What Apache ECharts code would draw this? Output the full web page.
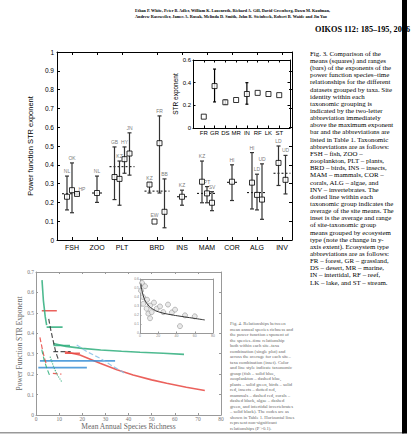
<!DOCTYPE html>
<html>
<head>
<meta charset="utf-8">
<script src="https://cdn.jsdelivr.net/npm/echarts@6/dist/echarts.min.js"></script>
<style>
  body { margin: 0; background: #fff; }
  #page { position: relative; width: 414px; height: 438px; overflow: hidden; }
  #chart { position: absolute; left: 0; top: 0; width: 414px; height: 438px; }
  #text { position: absolute; left: 0; top: 0; pointer-events: none; }
  #text text { font-family: 'Liberation Serif', 'DejaVu Serif', serif; }
</style>
</head>
<body>
<div id="page">
  <div id="chart"></div>
  <svg id="text" width="414" height="438"></svg>
</div>
<script>
// ---- Fig. 3 main panel: taxonomic groups ----
const groupNames = ['FSH', 'ZOO', 'PLT', 'BRD', 'INS', 'MAM', 'COR', 'ALG', 'INV'];
const groupPos = [3, 8, 13, 20, 25, 30, 35, 40, 45];
const groupAvg = [0.246, 0.25, 0.39, 0.26, 0.23, 0.248, 0.307, 0.252, 0.355];

// sites (mean square + min/max bar), grouped by taxon
const siteNames = ['NL', 'OK', 'HP', 'NL', 'GB', 'KZ', 'HY', 'JN', 'KZ', 'EW', 'FR', 'BB', 'KZ', 'KZ', 'PT', 'SV', 'HI', 'HI', 'LD', 'UD', 'LD', 'UD'];
const siteGroup = [0, 0, 0, 1, 2, 2, 2, 2, 3, 3, 3, 3, 4, 5, 5, 5, 6, 7, 7, 7, 8, 8];
const siteX = [2, 3, 4, 8, 11.5, 12.5, 13.5, 14.5, 18.5, 19.5, 20.5, 21.5, 25, 29, 30, 31, 35, 39, 40, 41, 44.3, 45.7];
const siteMean = [0.23, 0.265, 0.245, 0.25, 0.335, 0.325, 0.43, 0.46, 0.295, 0.098, 0.515, 0.15, 0.23, 0.31, 0.248, 0.198, 0.31, 0.305, 0.24, 0.215, 0.41, 0.32];
const siteMin = [0.16, 0.145, 0.24, 0.2, 0.215, 0.185, 0.355, 0.345, 0.25, 0.098, 0.25, 0.065, 0.185, 0.198, 0.198, 0.156, 0.21, 0.165, 0.16, 0.11, 0.29, 0.245];
const siteMax = [0.34, 0.41, 0.255, 0.34, 0.495, 0.42, 0.495, 0.57, 0.305, 0.098, 0.66, 0.325, 0.265, 0.42, 0.284, 0.257, 0.40, 0.465, 0.35, 0.405, 0.50, 0.45];

// inset: ecosystem types
const ecoNames = ['FR', 'GR', 'DS', 'MR', 'IN', 'RF', 'LK', 'ST'];
const ecoPos = [1, 2, 3, 4, 5, 6, 7, 8];
const ecoMean = [0.10, 0.37, 0.227, 0.247, 0.30, 0.31, 0.30, 0.29];
const ecoMin = [0.10, 0.23, 0.21, 0.247, 0.21, 0.31, 0.30, 0.29];
const ecoMax = [0.10, 0.52, 0.245, 0.247, 0.40, 0.31, 0.30, 0.29];

// ---- Fig. 4 (lower, scanned): exponent vs mean annual richness ----
const redFlatTop = [[2.5, 0.51], [9, 0.51]];
const greenSteep = [[2.6, 0.66], [3.2, 0.56], [4, 0.48], [4.6, 0.44]];
const greenFlat1 = [[4.6, 0.43], [11.5, 0.43]];
const greenCurve = [[7.5, 0.35], [13, 0.336], [20, 0.326], [28, 0.318], [37, 0.312], [45, 0.307], [55, 0.302], [64, 0.297]];
const greenFlat2 = [[7.5, 0.34], [14.7, 0.34]];
const blackDash = [[5.5, 0.47], [6.5, 0.41], [7.5, 0.36], [8.5, 0.31], [9.7, 0.27]];
const blackFlat = [[7.5, 0.31], [15, 0.31]];
const redCurve = [[12.5, 0.31], [19, 0.294], [27.7, 0.253], [35, 0.222], [42, 0.196], [50, 0.172], [56.5, 0.155], [65, 0.136], [73, 0.12]];
const redFlat = [[12.5, 0.302], [19, 0.302]];
const blueFlat1 = [[1.7, 0.265], [34.2, 0.265]];
const blueFlat2 = [[1, 0.232], [22, 0.232]];
const blueDash = [[17.6, 0.343], [22, 0.31], [27.7, 0.278], [33, 0.24], [38.5, 0.204]];
const redDashShort = [[7.3, 0.204], [11, 0.2]];
const redDashSteep = [[1.7, 0.38], [2.6, 0.33], [3.6, 0.28], [4.6, 0.245]];
const greenDash = [[2.5, 0.32], [3.5, 0.27], [4.8, 0.225], [6.1, 0.188]];
const greenDot = [[6.1, 0.286], [7.5, 0.24], [9, 0.2], [11.1, 0.163]];

// Fig. 4 inset: site-taxa averages
const insetRich = [1.1, 2.2, 3.3, 3.6, 5.5, 7.3, 7.7, 9.1, 11, 11, 12.8, 15.3, 18.3, 21.9, 25.5, 30.7, 35, 38.4, 43.8, 49.3, 60];
const insetExp = [0.47, 0.556, 0.40, 0.324, 0.52, 0.27, 0.37, 0.215, 0.164, 0.305, 0.232, 0.338, 0.27, 0.295, 0.232, 0.316, 0.229, 0.259, 0.076, 0.196, 0.185];
const insetFitX = [1, 4, 9, 15, 22, 33, 45, 58, 71];
const insetFitY = [0.55, 0.40, 0.31, 0.26, 0.23, 0.205, 0.185, 0.165, 0.145];

// ---- page text ----
const headerLines = [
  'Ethan P. White, Peter B. Adler, William K. Lauenroth, Richard A. Gill, David Greenberg, Dawn M. Kaufman,',
  'Andrew Rassweiler, James A. Rusak, Melinda D. Smith, John R. Steinbeck, Robert B. Waide and Jin Yao'
];
const journalLine = 'OIKOS 112: 185–195, 2006';
const fig3Caption = [
  'Fig. 3. Comparison of the', 'means (squares) and ranges', '(bars) of the exponents of the',
  'power function species–time', 'relationships for the different', 'datasets grouped by taxa. Site',
  'identity within each', 'taxonomic grouping is', 'indicated by the two-letter',
  'abbreviation immediately', 'above the maximum exponent', 'bar and the abbreviations are',
  'listed in Table 1. Taxonomic', 'abbreviations are as follows:', 'FSH – fish, ZOO –',
  'zooplankton, PLT – plants,', 'BRD – birds, INS – insects,', 'MAM – mammals, COR –',
  'corals, ALG – algae, and', 'INV – invertebrates. The', 'dotted line within each',
  'taxonomic group indicates the', 'average of the site means. The', 'inset is the average and range',
  'of site-taxonomic group', 'means grouped by ecosystem', 'type (note the change in y-',
  'axis extent). Ecosystem type', 'abbreviations are as follows:', 'FR – forest, GR – grassland,',
  'DS – desert, MR – marine,', 'IN – intertidal, RF – reef,', 'LK – lake, and ST – stream.'
];
const fig4Caption = [
  'Fig. 4. Relationships between', 'mean annual species richness and', 'the power function exponent of',
  'the species–time relationship', 'both within each site–taxa', 'combination (single plot) and',
  'across the average for each site–', 'taxa combination (inset). Color', 'and line style indicate taxonomic',
  'group (fish – solid blue,', 'zooplankton – dashed blue,', 'plants – solid green, birds – solid',
  'red, insects – dotted red,', 'mammals – dashed red, corals –', 'dashed black, algae – dashed',
  'green, and intertidal invertebrates', '– solid black). The codes are as', 'shown in Table 1. Horizontal lines',
  'represent non-significant', 'relationships (P >0.1).'
];

const sans = "'Liberation Sans', Arial, sans-serif";
const serif = "'Liberation Serif', 'DejaVu Serif', serif";

// error bar with caps
function errorBars(capW, color) {
  return function (params, api) {
    const x = api.value(0);
    const lo = api.coord([x, api.value(1)]);
    const hi = api.coord([x, api.value(2)]);
    const h = capW / 2;
    const st = { stroke: color, lineWidth: 1.2 };
    const kids = [];
    if (lo[1] - hi[1] > 0.5) {
      kids.push({ type: 'line', shape: { x1: lo[0], y1: lo[1], x2: hi[0], y2: hi[1] }, style: st });
      kids.push({ type: 'line', shape: { x1: lo[0] - h, y1: lo[1], x2: lo[0] + h, y2: lo[1] }, style: st });
      kids.push({ type: 'line', shape: { x1: hi[0] - h, y1: hi[1], x2: hi[0] + h, y2: hi[1] }, style: st });
    }
    return { type: 'group', children: kids };
  };
}

function dashedAvg(params, api) {
  const a = api.coord([api.value(0), api.value(2)]);
  const b = api.coord([api.value(1), api.value(2)]);
  return { type: 'line', shape: { x1: a[0], y1: a[1], x2: b[0], y2: b[1] },
           style: { stroke: '#000', lineWidth: 1, lineDash: [2, 2] } };
}

// group extent for the dotted average line: one site step beyond first and last site
const avgData = groupNames.map((g, gi) => {
  const xs = siteX.filter((x, i) => siteGroup[i] === gi);
  return [Math.min(...xs) - 1, Math.max(...xs) + 1, groupAvg[gi]];
});

// site labels sit just above the top of each bar (HP is written beside it)
const labelData = siteX.map((x, i) => ({
  value: [x, siteMax[i]],
  name: siteNames[i],
  label: siteNames[i] === 'HP' ? { position: 'right', distance: 1, offset: [0, -3] }
       : siteMin[i] === siteMax[i] ? { distance: 4 } : {}
}));

function frameAxis(grid, pos, type, extra) {
  const ax = Object.assign({
    gridIndex: grid, type: 'value', position: pos,
    axisLine: { show: true, onZero: false, lineStyle: { color: '#000', width: 1 } },
    axisTick: { show: true, inside: true, length: 3, lineStyle: { color: '#000' } },
    axisLabel: { show: false },
    splitLine: { show: false }
  }, extra);
  return ax;
}

const lowCol = { red: '#e8453f', green: '#2fae7d', blue: '#3a8fd6', lblue: '#86bfe6', black: '#333' };
function lowLine(data, color, type, width) {
  return { type: 'line', xAxisIndex: 4, yAxisIndex: 4, data: data, symbol: 'none', silent: true,
           lineStyle: { color: color, width: width || 1.6, type: type || 'solid', opacity: 0.85 } };
}

const chart = echarts.init(document.getElementById('chart'), null, { renderer: 'svg' });

const grayAxis = { color: '#999', width: 1 };
const option = {
  animation: false,
  grid: [
    { left: 57, top: 52, width: 235, height: 188 },
    { left: 193, top: 60, width: 97, height: 68 },
    { left: 36, top: 272, width: 185, height: 143 },
    { left: 140, top: 279, width: 73, height: 54 }
  ],
  xAxis: [
    frameAxis(0, 'bottom', 'value', {
      min: 0, max: 47,
      axisTick: { show: true, inside: true, length: 3, customValues: groupPos, lineStyle: { color: '#000' } },
      axisLabel: { show: true, customValues: groupPos, formatter: v => groupNames[groupPos.indexOf(v)],
                   fontSize: 7, fontFamily: sans, color: '#000', margin: 4 }
    }),
    frameAxis(0, 'top', 'value', {
      min: 0, max: 47,
      axisTick: { show: true, inside: true, length: 3, customValues: groupPos, lineStyle: { color: '#000' } }
    }),
    frameAxis(1, 'bottom', 'value', {
      min: 0, max: 9,
      axisTick: { show: true, inside: true, length: 2.5, customValues: ecoPos, lineStyle: { color: '#000' } },
      axisLabel: { show: true, customValues: ecoPos, formatter: v => ecoNames[ecoPos.indexOf(v)],
                   fontSize: 6, fontFamily: sans, color: '#000', margin: 2 }
    }),
    frameAxis(1, 'top', 'value', {
      min: 0, max: 9,
      axisTick: { show: true, inside: true, length: 2.5, customValues: ecoPos, lineStyle: { color: '#000' } }
    }),
    frameAxis(2, 'bottom', 'value', {
      min: 0, max: 80, interval: 10,
      axisLine: { show: true, onZero: false, lineStyle: grayAxis },
      axisTick: { show: true, inside: true, length: 2, lineStyle: grayAxis },
      axisLabel: { show: true, fontSize: 5.5, fontFamily: serif, color: '#777', margin: 1 },
      name: 'Mean Annual Species Richness', nameLocation: 'middle', nameGap: 7,
      nameTextStyle: { fontSize: 7.5, fontFamily: serif, color: '#666' }
    }),
    frameAxis(2, 'top', 'value', {
      min: 0, max: 80, interval: 10,
      axisLine: { show: true, onZero: false, lineStyle: grayAxis },
      axisTick: { show: true, inside: true, length: 2, lineStyle: grayAxis }
    }),
    frameAxis(3, 'bottom', 'value', {
      min: 0, max: 80, interval: 20,
      axisLine: { show: true, onZero: false, lineStyle: grayAxis },
      axisTick: { show: true, inside: true, length: 1.5, lineStyle: grayAxis },
      axisLabel: { show: true, fontSize: 3.5, color: '#888', margin: 1 }
    }),
    frameAxis(3, 'top', 'value', {
      min: 0, max: 80, interval: 20,
      axisLine: { show: true, onZero: false, lineStyle: grayAxis },
      axisTick: { show: false }
    })
  ],
  yAxis: [
    frameAxis(0, 'left', 'value', {
      min: 0, max: 1, interval: 0.1,
      axisLabel: { show: true, fontSize: 6.5, fontFamily: sans, color: '#000', margin: 3 },
      name: 'Power function STR exponent', nameLocation: 'middle', nameGap: 15,
      nameTextStyle: { fontSize: 7.5, fontFamily: sans, color: '#000' }
    }),
    frameAxis(0, 'right', 'value', { min: 0, max: 1, interval: 0.1 }),
    frameAxis(1, 'left', 'value', {
      min: 0, max: 0.6, interval: 0.2,
      axisTick: { show: true, inside: true, length: 2.5, lineStyle: { color: '#000' } },
      axisLabel: { show: true, fontSize: 6, fontFamily: sans, color: '#000', margin: 2 },
      name: 'STR exponent', nameLocation: 'middle', nameGap: 12,
      nameTextStyle: { fontSize: 6.5, fontFamily: sans, color: '#000' }
    }),
    frameAxis(1, 'right', 'value', {
      min: 0, max: 0.6, interval: 0.2,
      axisTick: { show: true, inside: true, length: 2.5, lineStyle: { color: '#000' } }
    }),
    frameAxis(2, 'left', 'value', {
      min: 0, max: 0.7, interval: 0.1,
      axisLine: { show: true, onZero: false, lineStyle: grayAxis },
      axisTick: { show: true, inside: true, length: 2, lineStyle: grayAxis },
      axisLabel: { show: true, fontSize: 5.5, fontFamily: serif, color: '#777', margin: 2 },
      name: 'Power Function STR Exponent', nameLocation: 'middle', nameGap: 13,
      nameTextStyle: { fontSize: 7.5, fontFamily: serif, color: '#666' }
    }),
    frameAxis(2, 'right', 'value', {
      min: 0, max: 0.7, interval: 0.1,
      axisLine: { show: true, onZero: false, lineStyle: grayAxis },
      axisTick: { show: true, inside: true, length: 2, lineStyle: grayAxis }
    }),
    frameAxis(3, 'left', 'value', {
      min: 0, max: 0.6, interval: 0.1,
      axisLine: { show: true, onZero: false, lineStyle: grayAxis },
      axisTick: { show: true, inside: true, length: 1.5, lineStyle: grayAxis },
      axisLabel: { show: true, fontSize: 3.5, color: '#888', margin: 1 }
    }),
    frameAxis(3, 'right', 'value', {
      min: 0, max: 0.6, interval: 0.1,
      axisLine: { show: true, onZero: false, lineStyle: grayAxis },
      axisTick: { show: false }
    })
  ],
  series: [
    // main panel
    { type: 'custom', xAxisIndex: 0, yAxisIndex: 0, renderItem: dashedAvg, silent: true,
      itemStyle: { color: '#000' },
      encode: { x: [0, 1], y: 2 }, data: avgData, z: 2 },
    { type: 'custom', xAxisIndex: 0, yAxisIndex: 0, renderItem: errorBars(4, '#333'), silent: true,
      itemStyle: { color: '#333' },
      encode: { x: 0, y: [1, 2] },
      data: siteX.map((x, i) => [x, siteMin[i], siteMax[i]]), z: 3 },
    { type: 'scatter', xAxisIndex: 0, yAxisIndex: 0, symbol: 'rect', symbolSize: 5, silent: true,
      itemStyle: { color: '#fff', borderColor: '#000', borderWidth: 1 },
      data: siteX.map((x, i) => [x, siteMean[i]]), z: 4 },
    { type: 'scatter', xAxisIndex: 0, yAxisIndex: 0, symbol: 'circle', symbolSize: 1, silent: true,
      itemStyle: { color: 'rgba(0,0,0,0)' },
      label: { show: true, position: 'top', distance: 2, formatter: '{b}',
               fontSize: 5, fontFamily: sans, color: '#555' },
      data: labelData, z: 5 },
    // inset
    { type: 'custom', xAxisIndex: 2, yAxisIndex: 2, renderItem: errorBars(3, '#000'), silent: true,
      itemStyle: { color: '#000' },
      encode: { x: 0, y: [1, 2] },
      data: ecoPos.map((x, i) => [x, ecoMin[i], ecoMax[i]]), z: 3 },
    { type: 'scatter', xAxisIndex: 2, yAxisIndex: 2, symbol: 'rect', symbolSize: 5, silent: true,
      itemStyle: { color: '#fff', borderColor: '#000', borderWidth: 1 },
      data: ecoPos.map((x, i) => [x, ecoMean[i]]), z: 4 },
    // lower figure
    lowLine(redFlatTop, lowCol.red),
    lowLine(greenSteep, lowCol.green),
    lowLine(greenFlat1, lowCol.green),
    lowLine(greenCurve, lowCol.green),
    lowLine(greenFlat2, lowCol.green),
    lowLine(blackDash, lowCol.black, 'dashed', 1.2),
    lowLine(blackFlat, lowCol.black, 'dashed', 1.2),
    lowLine(redCurve, lowCol.red),
    lowLine(redFlat, lowCol.red),
    lowLine(blueFlat1, lowCol.blue),
    lowLine(blueFlat2, lowCol.blue),
    lowLine(blueDash, lowCol.lblue, 'dashed', 1.2),
    lowLine(redDashShort, lowCol.red, 'dashed', 1.2),
    lowLine(redDashSteep, lowCol.red, 'dashed', 1.2),
    lowLine(greenDash, lowCol.green, 'dashed', 1.2),
    lowLine(greenDot, lowCol.green, 'dotted', 1.2),
    // lower inset
    { type: 'scatter', xAxisIndex: 6, yAxisIndex: 6, symbol: 'circle', symbolSize: 5, silent: true,
      itemStyle: { color: '#e4e4e4', borderColor: '#999', borderWidth: 0.8 },
      data: insetRich.map((x, i) => [x, insetExp[i]]) },
    { type: 'line', xAxisIndex: 6, yAxisIndex: 6, symbol: 'none', silent: true, smooth: true,
      lineStyle: { color: '#333', width: 1 },
      data: insetFitX.map((x, i) => [x, insetFitY[i]]) }
  ]
};
chart.setOption(option);

// page text (header, captions) and scan border
const svg = document.getElementById('text');
const NS = 'http://www.w3.org/2000/svg';
function addText(str, x, y, size, opts) {
  const t = document.createElementNS(NS, 'text');
  t.setAttribute('x', x);
  t.setAttribute('y', y);
  t.setAttribute('font-size', size);
  if (opts && opts.bold) t.setAttribute('font-weight', 'bold');
  if (opts && opts.fill) t.setAttribute('fill', opts.fill);
  if (opts && opts.len) { t.setAttribute('textLength', opts.len); t.setAttribute('lengthAdjust', 'spacingAndGlyphs'); }
  t.textContent = str;
  svg.appendChild(t);
}
function addRect(x, y, w, h, fill) {
  const r = document.createElementNS(NS, 'rect');
  r.setAttribute('x', x); r.setAttribute('y', y);
  r.setAttribute('width', w); r.setAttribute('height', h);
  r.setAttribute('fill', fill);
  svg.appendChild(r);
}
addText(headerLines[0], 135, 11.5, 4.3, { bold: true, len: 195 });
addText(headerLines[1], 135, 17.5, 4.3, { bold: true, len: 192 });
addText(journalLine, 315, 31.5, 7.5, { bold: true, len: 95 });
fig3Caption.forEach((s, i) => addText(s, 310, 55.8 + i * 7.15, 6.9));
fig4Caption.forEach((s, i) => addText(s, 230, 325 + i * 5.5, 4.7, { fill: '#666' }));
addRect(0, 432, 404, 1.5, '#999');
addRect(402, 0, 5, 433.5, '#000');
</script>
</body>
</html>
